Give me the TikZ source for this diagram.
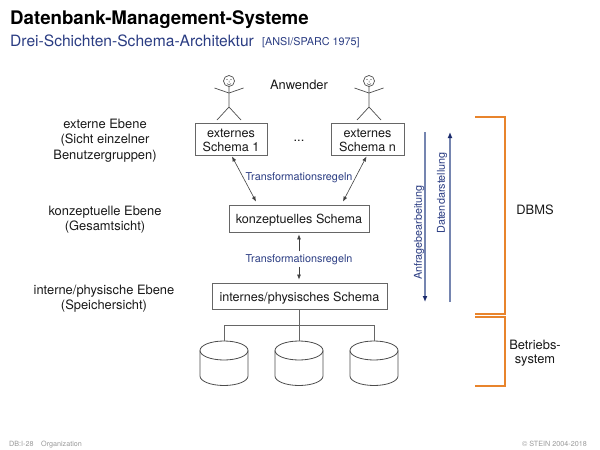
\documentclass[tikz,border=0pt]{standalone}
\usepackage{fontspec}
\setmainfont{TeX Gyre Heros}
\usetikzlibrary{arrows.meta,positioning}
\definecolor{navy}{HTML}{2A3C82}
\definecolor{lineblue}{HTML}{7585B0}
\definecolor{tipblue}{HTML}{1A2A6C}
\definecolor{orangeb}{HTML}{E8842C}
\definecolor{boxgray}{HTML}{666666}
\definecolor{footgray}{HTML}{999999}
\tikzset{
  schemabox/.style={draw=boxgray,line width=0.9pt,inner sep=0pt,align=center,font=\fontsize{12.6}{14}\selectfont,text=black!90},
  lab/.style={align=center,font=\fontsize{12.9}{15.5}\selectfont,text=black!90,inner sep=0pt},
  translab/.style={font=\fontsize{10.8}{12}\selectfont,text=navy,inner sep=0pt},
  rotlab/.style={font=\fontsize{10.8}{12}\selectfont,text=navy,inner sep=0pt,rotate=90},
  dbl/.style={{Latex[length=5pt,width=4pt]}-{Latex[length=5pt,width=4pt]},line width=0.6pt,draw=black!75},
  sgl/.style={-{Latex[length=5pt,width=4pt]},line width=0.6pt,draw=black!75},
  flowline/.style={line width=1.2pt,draw=lineblue,-{Latex[length=6pt,width=5pt,color=tipblue]}},
  bracket/.style={draw=orangeb,line width=1.6pt,line join=miter},
  busline/.style={draw=boxgray,line width=0.9pt},
  figure/.style={draw=black!70,line width=0.7pt},
  foot/.style={font=\fontsize{7.2}{8}\selectfont,text=footgray,inner sep=0pt}
}
\newcommand{\stickman}[1]{%
  \begin{scope}[shift={(#1,0)}]
    \draw[figure] (0,81) circle[radius=5.5pt];
    \fill[black!70] (-2,79.5) circle[radius=0.7pt] (2,79.5) circle[radius=0.7pt];
    \draw[figure,line width=0.5pt] (0,80.5) -- (0,82.5) (-2,83.5) -- (0,85) -- (2,83.5);
    \draw[figure] (0,86.5) -- (0,107) -- (-12,120) (0,107) -- (12,120);
    \draw[figure] (-14.5,88) -- (0,93) -- (14.5,88);
  \end{scope}}
\newcommand{\disk}[2]{%
  \coordinate (#2) at (#1,341);
  \begin{scope}[shift={(#1,0)}]
    \draw[figure,line width=0.8pt] (-24,350.5) arc[start angle=180,end angle=0,x radius=24pt,y radius=9.5pt]
      -- (24,376) arc[start angle=0,end angle=-180,x radius=24pt,y radius=9.5pt] -- cycle;
    \draw[figure,line width=0.8pt] (-24,350.5) arc[start angle=180,end angle=360,x radius=24pt,y radius=9.5pt];
  \end{scope}}
\begin{document}
\begin{tikzpicture}[x=1pt,y=-1pt]
\useasboundingbox (0,0) rectangle (600,450);
% titles
\node[anchor=base west,inner sep=0pt,font=\fontsize{18.7}{20}\selectfont\bfseries] (title) at (10,24) {Datenbank-Management-Systeme};
\node[anchor=base west,inner sep=0pt,font=\fontsize{15.6}{17}\selectfont,text=navy] (sub) at (10,46) {Drei-Schichten-Schema-Architektur};
\node[anchor=base west,inner sep=0pt,font=\fontsize{10.8}{12}\selectfont,text=navy] (ref) at (262,45) {[ANSI/SPARC 1975]};
% left labels
\node[lab] (l1) at (105,140.5) {externe Ebene\\(Sicht einzelner\\Benutzergruppen)};
\node[lab] (l2) at (105,219.5) {konzeptuelle Ebene\\(Gesamtsicht)};
\node[lab] (l3) at (104,298.5) {interne/physische Ebene\\(Speichersicht)};
% figures
\stickman{229}
\stickman{369}
\node[lab] (anw) at (299,85) {Anwender};
% boxes
\node[schemabox,minimum width=72pt,minimum height=32pt] (e1) at (231,139) {\rule{0pt}{12pt}externes\\Schema 1};
\node[schemabox,minimum width=73pt,minimum height=32pt] (en) at (367.5,139) {\rule{0pt}{12pt}externes\\Schema n};
\node[lab] (dots) at (299,141) {...};
\node[schemabox,minimum width=140pt,minimum height=27pt,text height=11pt,text depth=1pt] (k) at (299,218.5) {konzeptuelles Schema};
\node[schemabox,minimum width=175pt,minimum height=26pt,text height=11pt,text depth=1pt] (i) at (299.5,296) {internes/physisches Schema};
% transformation labels
\node[translab] (t1) at (299,177.5) {Transformationsregeln};
\node[translab] (t2) at (299,259.5) {Transformationsregeln};
% arrows
\draw[dbl] ([xshift=1pt,yshift=-1pt]e1.south) -- ([xshift=-43pt,yshift=3pt]k.north);
\draw[dbl] ([xshift=-1pt,yshift=-1pt]en.south) -- ([xshift=44pt,yshift=3pt]k.north);
\draw[sgl] (t2.north -| k.south) ++(0,-3) -- ([yshift=-2pt]k.south);
\draw[sgl] (t2.south -| i.north) ++(-0.5,2) -- ([xshift=-0.5pt,yshift=3pt]i.north);
% disks
\disk{224}{d1}
\disk{299}{d2}
\disk{374}{d3}
\coordinate (bus) at (299,325);
\draw[busline] ([xshift=-0.5pt]i.south) -- (d2);
\draw[busline] (d1) -- (d1 |- bus) -- (d3 |- bus) -- (d3);
% flow arrows
\coordinate (at) at (425,132);
\coordinate (ab) at (425,302);
\coordinate (dt) at (450,132);
\coordinate (db) at (450,302);
\draw[flowline] (at) -- (ab);
\draw[flowline] (db) -- (dt);
\node[rotlab] (anf) at (419,232.5) {Anfragebearbeitung};
\node[rotlab] (dat) at (442,193) {Datendarstellung};
% brackets
\draw[bracket] (475,117) -- (505,117) -- (505,314) -- (475,314);
\draw[bracket] (475,317) -- (505,317) -- (505,386) -- (475,386);
\node[lab] (dbms) at (535,210) {DBMS};
\node[lab,font=\fontsize{12.9}{13.5}\selectfont] (bs) at (535,353) {Betriebs-\\system};
% footer
\node[foot,anchor=base west] (f1) at (9,446) {DB:I-28};
\node[foot,anchor=base west] (f2) at (41,446) {Organization};
\node[foot,anchor=base east] (f3) at (587,446) {© STEIN 2004-2018};
\end{tikzpicture}
\end{document}
